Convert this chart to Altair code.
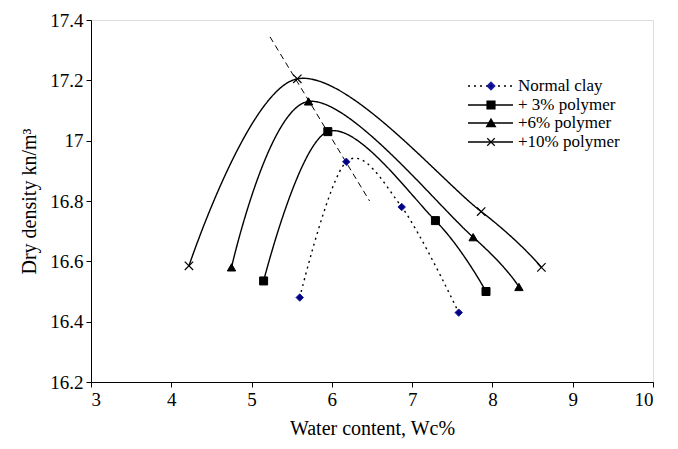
import altair as alt
import pandas as pd

# ---- data ----
series_names = ["Normal clay", "+ 3% polymer", "+6% polymer", "+10% polymer"]
wc_normal = [5.60, 6.18, 6.87, 7.58]
dd_normal = [16.48, 16.93, 16.78, 16.43]
wc_3 = [5.15, 5.95, 7.29, 7.92]
dd_3 = [16.535, 17.03, 16.735, 16.50]
wc_6 = [4.75, 5.71, 7.76, 8.33]
dd_6 = [16.58, 17.13, 16.68, 16.515]
wc_10 = [4.22, 5.57, 7.86, 8.61]
dd_10 = [16.585, 17.205, 16.765, 16.58]
# line of optimums (dashed)
wc_opt = [5.23, 6.47]
dd_opt = [17.344, 16.80]

x_ticks = [3, 4, 5, 6, 7, 8, 9, 10]
y_ticks = [16.2, 16.4, 16.6, 16.8, 17.0, 17.2, 17.4]

FONT = "Times New Roman"
W, H = 562, 362

xs = alt.Scale(domain=[3, 10], nice=False, zero=False)
ys = alt.Scale(domain=[16.2, 17.4], nice=False, zero=False)

axis_common = dict(labelFont=FONT, labelFontSize=19, labelColor="black", labelPadding=3,
                   titleFont=FONT, titleFontSize=20, titleFontWeight="normal", titleColor="black",
                   grid=False, domainColor="black", domainWidth=1, tickColor="black", tickSize=5)

xenc = alt.X("wc:Q", scale=xs, axis=alt.Axis(values=x_ticks, title="Water content, Wc%", format="~r",
                                              titlePadding=9, **axis_common))
yenc = alt.Y("dd:Q", scale=ys, axis=alt.Axis(values=y_ticks, title="Dry density kn/m³", format="~r",
                                              titlePadding=10, **axis_common))

styles = [
    # name, wc, dd, dash, shape, size, fill, stroke, filled
    (series_names[0], wc_normal, dd_normal, [2, 4], "diamond", 55, "#000080", "#1a1aa0", True),
    (series_names[1], wc_3, dd_3, [1, 0], "square", 64, "black", "black", True),
    (series_names[2], wc_6, dd_6, [1, 0], "triangle-up", 70, "black", "black", True),
    (series_names[3], wc_10, dd_10, [1, 0], "M-1,-1L1,1M-1,1L1,-1", 70, "black", "black", False),
]

layers = []
# dashed optimum line
df_opt = pd.DataFrame({"wc": wc_opt, "dd": dd_opt})
layers.append(alt.Chart(df_opt).mark_line(color="black", strokeWidth=1, strokeDash=[6, 4]).encode(x=xenc, y=yenc))

for name, wc, dd, dash, shape, size, fill, stroke, filled in styles:
    df = pd.DataFrame({"wc": wc, "dd": dd, "series": name})
    layers.append(
        alt.Chart(df).mark_line(interpolate="cardinal", color="black", strokeWidth=1.4,
                                strokeDash=dash).encode(x=xenc, y=yenc, order="wc:Q")
    )
    if filled:
        pt = alt.Chart(df).mark_point(shape=shape, size=size, filled=True, fill=fill, stroke=stroke,
                                      strokeWidth=1, opacity=1)
    else:
        pt = alt.Chart(df).mark_point(shape=shape, size=size, filled=False, stroke=stroke,
                                      strokeWidth=1.2, opacity=1)
    layers.append(pt.encode(x=xenc, y=yenc))

# ---- manual legend (positions in pixels inside the plot area) ----
leg_y = [66, 85, 103, 122]
lx0, lx1, lmx, ltx = 377, 422, 400, 427
for i, (name, wc, dd, dash, shape, size, fill, stroke, filled) in enumerate(styles):
    ldf = pd.DataFrame({"label": [name]})
    layers.append(alt.Chart(ldf).mark_rule(color="black", strokeWidth=1.4, strokeDash=dash).encode(
        x=alt.value(lx0), x2=alt.value(lx1), y=alt.value(leg_y[i])))
    if filled:
        lp = alt.Chart(ldf).mark_point(shape=shape, size=size * 0.8, filled=True, fill=fill, stroke=stroke, opacity=1)
    else:
        lp = alt.Chart(ldf).mark_point(shape=shape, size=size * 0.8, filled=False, stroke=stroke, strokeWidth=1.2, opacity=1)
    layers.append(lp.encode(x=alt.value(lmx), y=alt.value(leg_y[i])))
    layers.append(alt.Chart(ldf).mark_text(align="left", baseline="middle", font=FONT, fontSize=17,
                                           color="black").encode(
        x=alt.value(ltx), y=alt.value(leg_y[i]), text="label:N"))

chart = alt.layer(*layers).properties(
    width=W, height=H,
    autosize=alt.AutoSizeParams(type="none"),
    padding={"left": 83, "top": 12, "right": 17, "bottom": 59},
).configure_view(
    stroke="black", strokeWidth=1
).configure(font=FONT)

chart.save("out.html", embed_options={"renderer": "svg", "actions": False})
